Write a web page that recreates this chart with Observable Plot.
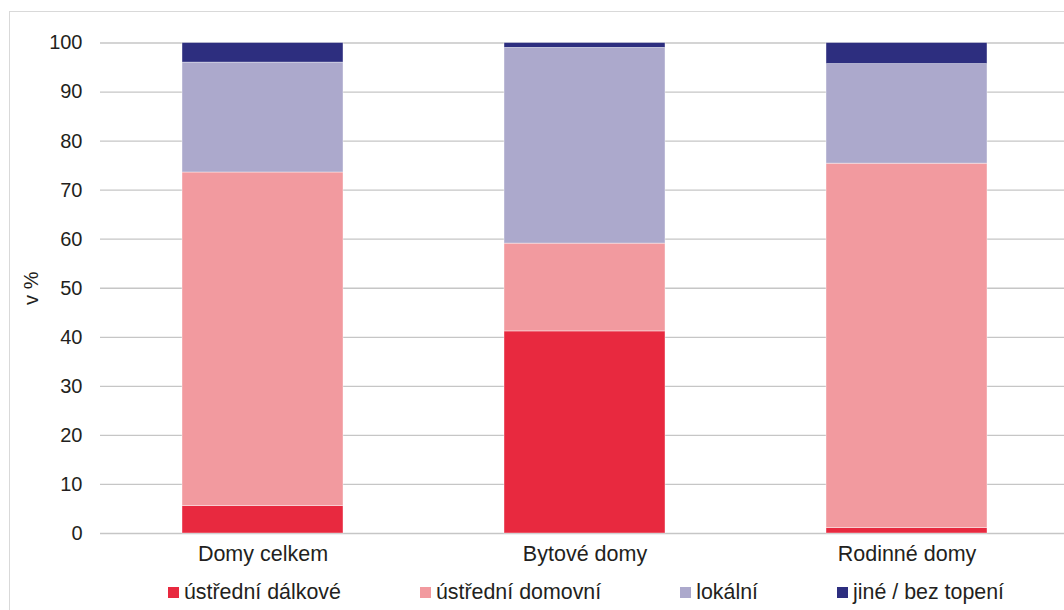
<!DOCTYPE html>
<html>
<head>
<meta charset="utf-8">
<script src="https://cdn.jsdelivr.net/npm/d3@7"></script>
<script src="https://cdn.jsdelivr.net/npm/@observablehq/plot@0.6"></script>
<style>
  html, body { margin: 0; padding: 0; background: #fff; overflow: hidden; width: 1064px; height: 610px; }
  #frame { position: absolute; left: 9px; top: 11px; width: 1070px; height: 620px; border: 1.5px solid #d9d9d9; box-sizing: border-box; }
  #chart { position: absolute; left: 0; top: 0; width: 1068px; }
  #chart svg { max-width: none; }
  #legend { position: absolute; left: 0; top: 580px; width: 1172px; height: 24px; display: flex; justify-content: center; align-items: center; gap: 79px;
            font-family: "Liberation Sans", Arial, sans-serif; font-size: 21.4px; color: #231f20; }
  #legend .item { display: flex; align-items: center; }
  #legend .sw { width: 11px; height: 11px; margin-right: 5px; }
</style>
</head>
<body>
<div id="frame"></div>
<div id="chart"></div>
<div id="legend"></div>
<script>
const categories = ["Domy celkem", "Bytové domy", "Rodinné domy"];
const series = ["ústřední dálkové", "ústřední domovní", "lokální", "jiné / bez topení"];
const colors = ["#e8293f", "#f29a9f", "#aca9cc", "#2d2e7f"];
const dalkove = [5.6, 41.2, 1.1];
const domovni = [68.0, 17.9, 74.3];
const lokalni = [22.4, 39.9, 20.3];
const jine = [4.0, 1.0, 4.3];
const yTicks = [0, 10, 20, 30, 40, 50, 60, 70, 80, 90, 100];

const values = [dalkove, domovni, lokalni, jine];
const data = [];
series.forEach((s, i) => categories.forEach((c, j) => data.push({cat: c, series: s, value: values[i][j]})));

const plot = Plot.plot({
  width: 1068,
  height: 575,
  marginTop: 42.5,
  marginBottom: 42,
  marginLeft: 100,
  marginRight: 0,
  style: {fontFamily: "'Liberation Sans', Arial, sans-serif", fontSize: "20px", color: "#231f20", background: "transparent", maxWidth: "none"},
  x: {domain: categories, paddingInner: 0.5, paddingOuter: 0.25, label: null},
  y: {domain: [0, 100], label: null},
  color: {domain: series, range: colors},
  marks: [
    Plot.gridY(yTicks, {stroke: "#c6c6c6", strokeOpacity: 1, strokeWidth: 1.3}),
    Plot.axisY(yTicks, {tickSize: 0, tickPadding: 18, label: "v %", labelAnchor: "center", labelArrow: "none", labelOffset: 77, fontSize: 20}),
    Plot.axisX({tickSize: 0, tickPadding: 12, label: null, fontSize: 21.5}),
    Plot.barY(data, Plot.stackY({x: "cat", y: "value", fill: "series", order: series, stroke: "#ffffff", strokeOpacity: 0.5, strokeWidth: 0.8}))
  ]
});
document.getElementById("chart").appendChild(plot);

const legend = document.getElementById("legend");
series.forEach((s, i) => {
  const it = document.createElement("div");
  it.className = "item";
  const sw = document.createElement("div");
  sw.className = "sw";
  sw.style.background = colors[i];
  const t = document.createElement("span");
  t.textContent = s;
  it.appendChild(sw); it.appendChild(t);
  legend.appendChild(it);
});
</script>
</body>
</html>
